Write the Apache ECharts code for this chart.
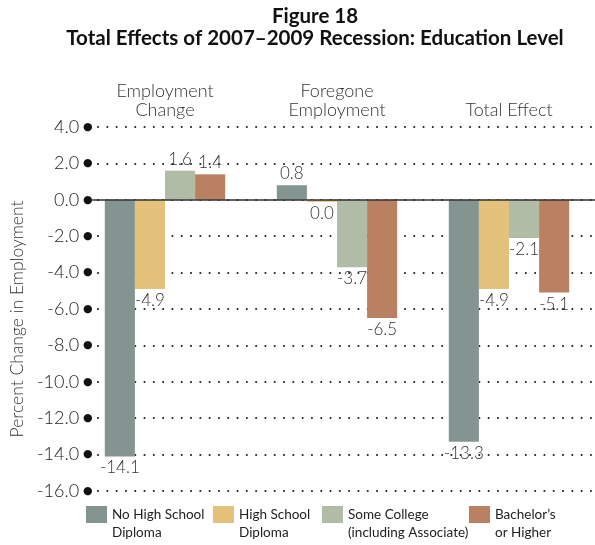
<!DOCTYPE html>
<html><head><meta charset="utf-8">
<script src="https://cdn.jsdelivr.net/npm/echarts@6/dist/echarts.min.js"></script>
<style>html,body{margin:0;padding:0;background:#fff}#c{width:595px;height:545px}</style>
</head><body><div id="c"></div>
<script>
const categories = ['Employment\nChange', 'Foregone\nEmployment', 'Total Effect'];
const seriesNames = ['No High School\nDiploma', 'High School\nDiploma', 'Some College\n(including Associate)', 'Bachelor\u2019s\nor Higher'];
const noHighSchool = [-14.1, 0.8, -13.3];
const highSchool = [-4.9, -0.04, -4.9];
const someCollege = [1.6, -3.7, -2.1];
const bachelors = [1.4, -6.5, -5.1];
const yMin = -16, yMax = 4, yStep = 2;
const colors = ['#849591', '#e5c27b', '#b0bca6', '#b98062'];
const legendLeft = [86, 213, 322, 469];

const lightFont = 'Lato, "Open Sans", sans-serif';
const allValues = [noHighSchool, highSchool, someCollege, bachelors];

const series = allValues.map((vals, i) => ({
  name: seriesNames[i],
  type: 'bar',
  xAxisIndex: 0, yAxisIndex: 0,
  barGap: '0%', barCategoryGap: '30%',
  barMinHeight: 2,
  itemStyle: { color: colors[i] },
  data: vals.map(v => ({ value: v, label: { position: v >= 0 ? 'top' : 'bottom' } })),
  label: {
    show: true, distance: 3,
    color: '#333', fontFamily: lightFont, fontWeight: 300, fontSize: 17,
    formatter: p => Math.abs(p.value) < 0.05 ? '0.0' : p.value.toFixed(1)
  }
}));

const legends = seriesNames.map((n, i) => ({
  data: [n], left: legendLeft[i], top: 487.5, padding: 0,
  icon: 'rect', itemWidth: 21, itemHeight: 17, selectedMode: false,
  formatter: name => '\n' + name,
  textStyle: { fontFamily: lightFont, fontSize: 13.5, lineHeight: 18, color: '#222' }
}));

const chart = echarts.init(document.getElementById('c'), null, { renderer: 'canvas' });
chart.setOption({
  animation: false,
  backgroundColor: '#fff',
  color: colors,
  title: {
    text: 'Figure 18\nTotal Effects of 2007\u20132009 Recession: Education Level',
    left: 310, top: 0, textAlign: 'center',
    textStyle: { fontFamily: 'Lato, "Open Sans", sans-serif', fontWeight: 'bold', fontSize: 20.5, lineHeight: 22, color: '#111' }
  },
  legend: legends,
  grid: [
    { left: 79, top: 127, width: 518, height: 364 },
    { left: 90, top: 127, right: 0, height: 364 }
  ],
  xAxis: [
    { type: 'category', gridIndex: 0, position: 'top', data: categories,
      axisLine: { show: false }, axisTick: { show: false },
      axisLabel: { margin: 7, fontFamily: lightFont, fontWeight: 300, fontSize: 18, lineHeight: 19, color: '#333' } },
    { type: 'value', gridIndex: 1, min: 0, max: 1, z: 5,
      axisLine: { show: true, onZero: true, lineStyle: { color: '#333', width: 1.5 } },
      axisTick: { show: false }, axisLabel: { show: false }, splitLine: { show: false } }
  ],
  yAxis: [
    { type: 'value', gridIndex: 0, min: yMin, max: yMax, interval: yStep, show: false },
    { type: 'value', gridIndex: 1, min: yMin, max: yMax, interval: yStep,
      name: 'Percent Change in Employment', nameLocation: 'middle', nameGap: 61,
      nameTextStyle: { fontFamily: lightFont, fontWeight: 300, fontSize: 17.5, color: '#333', padding: [0, 20, 0, 0] },
      axisLine: { show: false },
      axisTick: { show: false },
      axisLabel: { margin: 0, color: '#222',
        formatter: v => '{v|' + v.toFixed(1) + '}{d|\u25CF}',
        rich: {
          v: { fontFamily: lightFont, fontWeight: 300, fontSize: 18, color: '#222', padding: [0, 4, 0, 0], verticalAlign: 'middle' },
          d: { fontFamily: '"DejaVu Sans"', fontSize: 11, color: '#111', verticalAlign: 'middle' }
        } },
      splitLine: { show: true, lineStyle: { color: '#222', width: 2, type: [0.1, 9.2], cap: 'round', dashOffset: 4 } } }
  ],
  series: series
});
</script></body></html>
